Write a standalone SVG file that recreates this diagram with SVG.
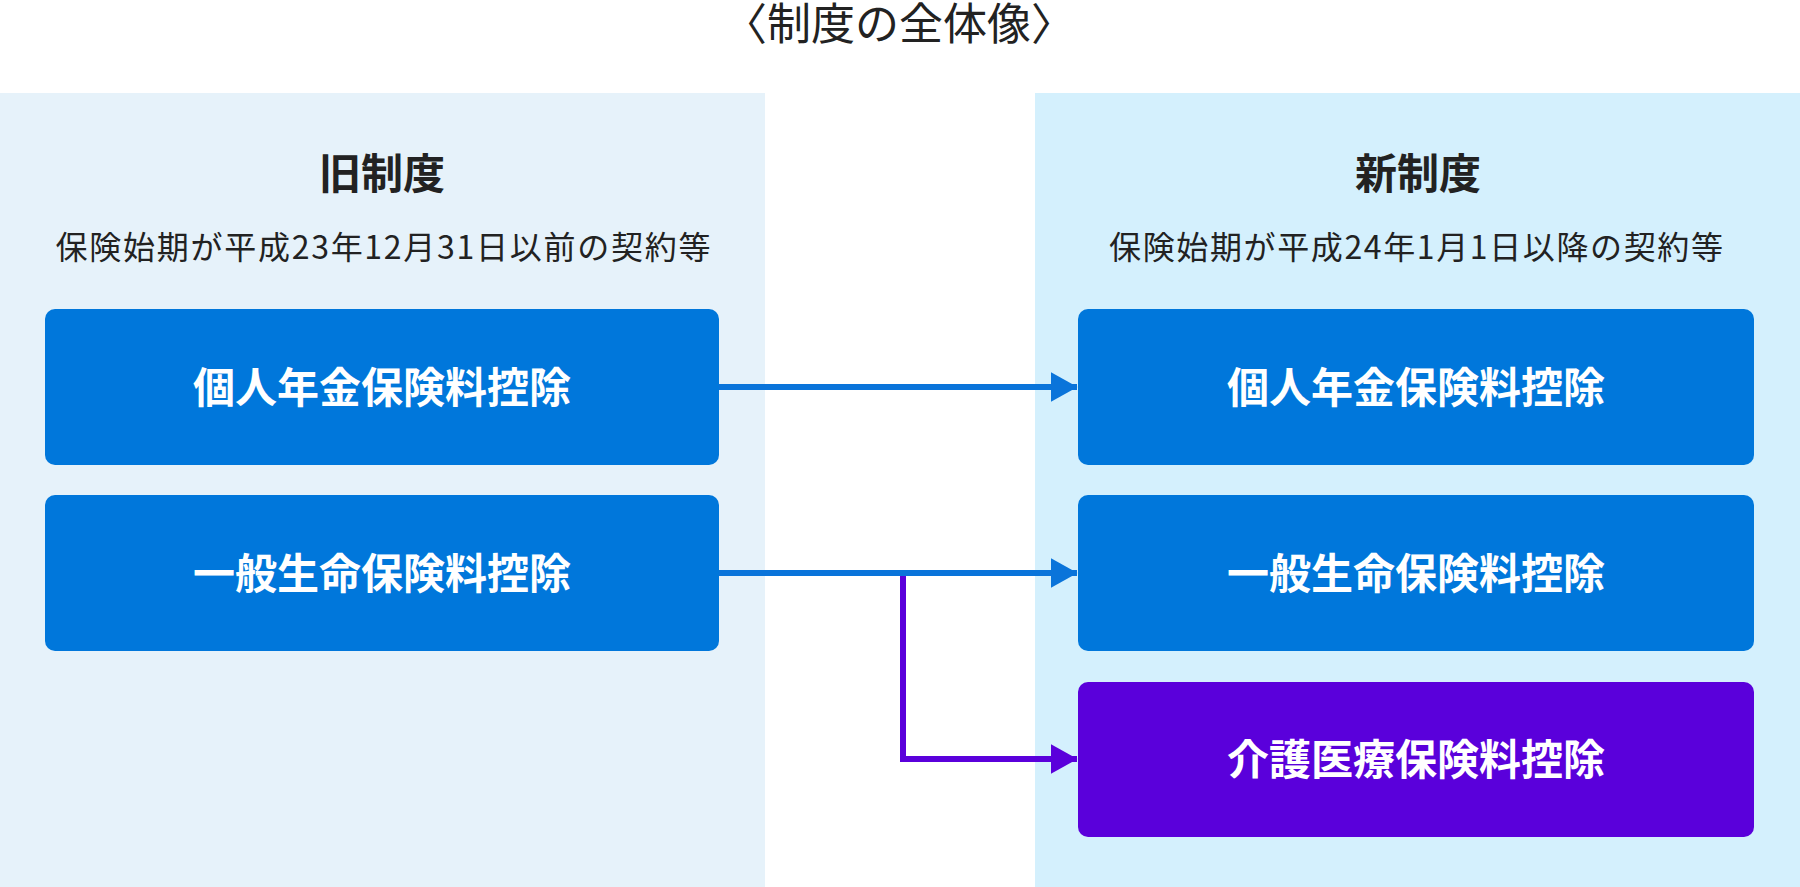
<svg xmlns="http://www.w3.org/2000/svg" width="1800" height="887" viewBox="0 0 1800 887">
<style>
text{font-family:"Noto Sans CJK JP","Noto Sans",sans-serif;text-anchor:middle}
.title{font-size:44px;fill:#222}
.head{font-size:42px;font-weight:bold;fill:#222}
.sub{font-size:32px;fill:#222}
.lbl{font-size:42px;font-weight:bold;fill:#fff}
.blue{fill:#0077DB}
.purple{fill:#5A00DB}
.lb{stroke:#0A74DA;stroke-width:6;fill:none}
.lp{stroke:#5A00DB;stroke-width:6;fill:none}
</style>
<defs>
<marker id="ab" markerUnits="userSpaceOnUse" markerWidth="27" markerHeight="30" refX="26.5" refY="15" orient="auto"><path d="M0,0 L27,15 L0,30 z" fill="#0A74DA"/></marker>
<marker id="ap" markerUnits="userSpaceOnUse" markerWidth="27" markerHeight="30" refX="26.5" refY="15" orient="auto"><path d="M0,0 L27,15 L0,30 z" fill="#5A00DB"/></marker>
</defs>
<rect width="1800" height="887" fill="#fff"/>
<text class="title" x="899" y="40">〈制度の全体像〉</text>
<g id="old-panel">
<rect x="0" y="93" width="765" height="794" fill="#E6F2FA"/>
<text class="head" x="382" y="189">旧制度</text>
<text class="sub" x="383" y="259" textLength="655" lengthAdjust="spacing">保険始期が平成23年12月31日以前の契約等</text>
</g>
<g id="new-panel">
<rect x="1035" y="93" width="765" height="794" fill="#D4F0FD"/>
<text class="head" x="1418" y="189">新制度</text>
<text class="sub" x="1416" y="259" textLength="614" lengthAdjust="spacing">保険始期が平成24年1月1日以降の契約等</text>
</g>
<g id="connectors">
<path class="lb" d="M719,387 H1077" marker-end="url(#ab)"/>
<path class="lb" d="M719,573 H1077" marker-end="url(#ab)"/>
<path class="lp" d="M903,576 V759 H1077" marker-end="url(#ap)"/>
</g>
<g id="old-pension">
<rect class="blue" x="45" y="309" width="674" height="156" rx="10"/>
<text class="lbl" x="382" y="403">個人年金保険料控除</text>
</g>
<g id="old-life">
<rect class="blue" x="45" y="495" width="674" height="156" rx="10"/>
<text class="lbl" x="382" y="589">一般生命保険料控除</text>
</g>
<g id="new-pension">
<rect class="blue" x="1078" y="309" width="676" height="156" rx="10"/>
<text class="lbl" x="1416" y="403">個人年金保険料控除</text>
</g>
<g id="new-life">
<rect class="blue" x="1078" y="495" width="676" height="156" rx="10"/>
<text class="lbl" x="1416" y="589">一般生命保険料控除</text>
</g>
<g id="new-care">
<rect class="purple" x="1078" y="682" width="676" height="155" rx="10"/>
<text class="lbl" x="1416" y="775">介護医療保険料控除</text>
</g>
</svg>
